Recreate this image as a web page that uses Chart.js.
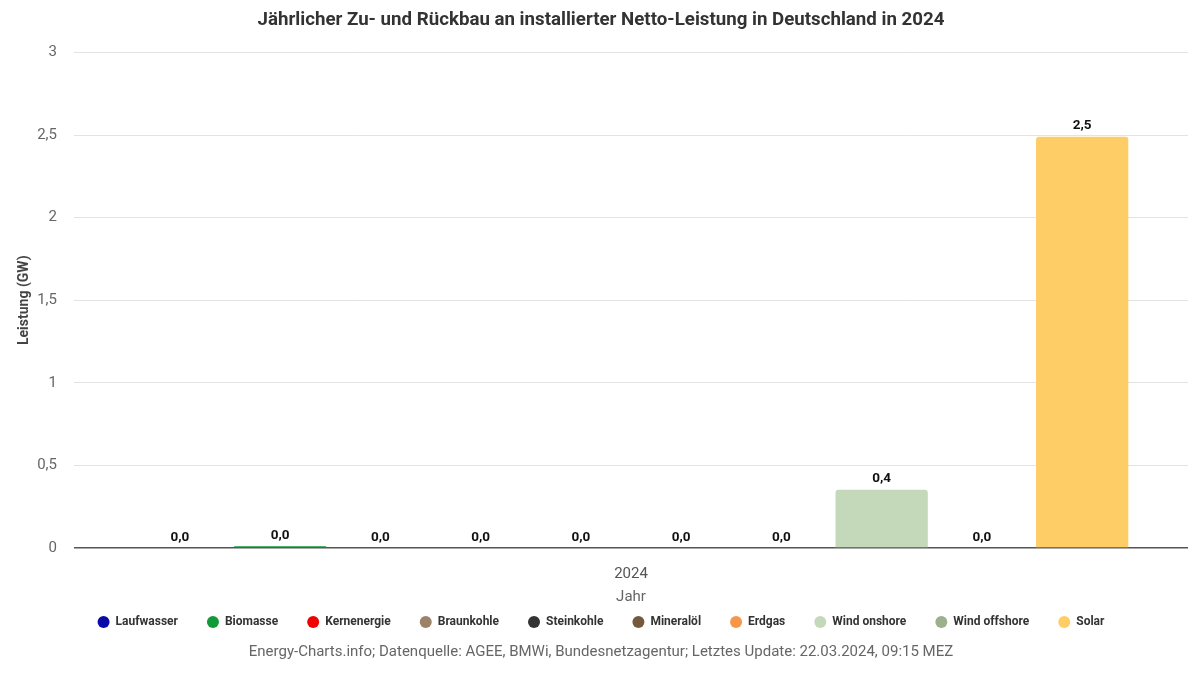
<!DOCTYPE html>
<html>
<head>
<meta charset="utf-8">
<script src="https://cdn.jsdelivr.net/npm/chart.js@4"></script>
<style>
  html, body { margin: 0; padding: 0; background: #fff; }
  #wrap { width: 1200px; height: 675px; position: relative; }
</style>
</head>
<body>
<div id="wrap"><canvas id="c" width="1200" height="675"></canvas></div>
<script>
const categories = ['2024'];
const seriesNames = ['Laufwasser', 'Biomasse', 'Kernenergie', 'Braunkohle', 'Steinkohle', 'Mineralöl', 'Erdgas', 'Wind onshore', 'Wind offshore', 'Solar'];
const seriesValues = [0, 0.01, 0, 0, 0, 0, 0, 0.353, 0, 2.49];
const seriesColors = ['#0a0aa8', '#119a37', '#f00000', '#9c8368', '#333333', '#74593f', '#f7954a', '#c4d9b9', '#9cb08c', '#fecd65'];
const yTicks = [0, 0.5, 1, 1.5, 2, 2.5, 3];

const fmt = v => v.toFixed(1).replace('.', ',');
const fmtTick = v => String(v).replace('.', ',');

const datasets = seriesNames.map((n, i) => ({
  label: n,
  data: [seriesValues[i]],
  backgroundColor: seriesColors[i],
  borderColor: seriesColors[i],
  borderRadius: { topLeft: 3, topRight: 3, bottomLeft: 0, bottomRight: 0 },
  borderSkipped: 'bottom',
  categoryPercentage: 0.9,
  barPercentage: 0.92
}));

const labelPlugin = {
  id: 'valueLabels',
  afterDatasetsDraw(chart) {
    const ctx = chart.ctx;
    ctx.save();
    ctx.font = 'bold 13.5px Roboto';
    ctx.fillStyle = '#111';
    ctx.textAlign = 'center';
    ctx.textBaseline = 'bottom';
    chart.data.datasets.forEach((ds, i) => {
      const meta = chart.getDatasetMeta(i);
      meta.data.forEach((bar, j) => {
        ctx.fillText(fmt(ds.data[j]), bar.x, bar.y - 4);
      });
    });
    ctx.restore();
  }
};

new Chart(document.getElementById('c'), {
  type: 'bar',
  data: { labels: categories, datasets },
  plugins: [labelPlugin],
  options: {
    responsive: false,
    animation: false,
    layout: { padding: { left: 14, right: 12, top: 0, bottom: 14 } },
    plugins: {
      title: {
        display: true,
        text: 'Jährlicher Zu- und Rückbau an installierter Netto-Leistung in Deutschland in 2024',
        font: { family: 'Roboto', size: 18.7, weight: 'bold' },
        color: '#333',
        padding: { top: 9, bottom: 21 }
      },
      subtitle: {
        display: true,
        position: 'bottom',
        text: 'Energy-Charts.info; Datenquelle: AGEE, BMWi, Bundesnetzagentur; Letztes Update: 22.03.2024, 09:15 MEZ',
        font: { family: 'Roboto', size: 15 },
        color: '#666',
        padding: { top: 5, bottom: 0 }
      },
      legend: {
        position: 'bottom',
        labels: {
          usePointStyle: true,
          pointStyle: 'circle',
          boxWidth: 8.5,
          boxHeight: 8.5,
          pointStyleWidth: 12,
          padding: 29,
          font: { family: 'Roboto', size: 12, weight: 'bold' },
          color: '#333'
        }
      },
      tooltip: { enabled: false }
    },
    scales: {
      x: {
        grid: { display: false },
        border: { display: false },
        ticks: { font: { family: 'Roboto', size: 15 }, color: '#555', padding: 9 },
        title: { display: true, text: 'Jahr', font: { family: 'Roboto', size: 15 }, color: '#666', padding: { top: -4, bottom: -19 } }
      },
      y: {
        min: 0,
        max: 3,
        afterBuildTicks: axis => { axis.ticks = yTicks.map(v => ({ value: v })); },
        afterFit: axis => { axis.width = 60; },
        grid: {
          color: c => c.tick && c.tick.value === 0 ? '#555' : '#e3e3e3',
          lineWidth: c => c.tick && c.tick.value === 0 ? 1.5 : 1,
          drawTicks: false
        },
        border: { display: false },
        ticks: { font: { family: 'Roboto', size: 15 }, color: '#666', padding: 17, callback: v => fmtTick(v) },
        title: { display: true, text: 'Leistung (GW)', font: { family: 'Roboto', size: 14, weight: 'bold' }, color: '#444', padding: { top: 2, bottom: 6 } }
      }
    }
  }
});
</script>
</body>
</html>
